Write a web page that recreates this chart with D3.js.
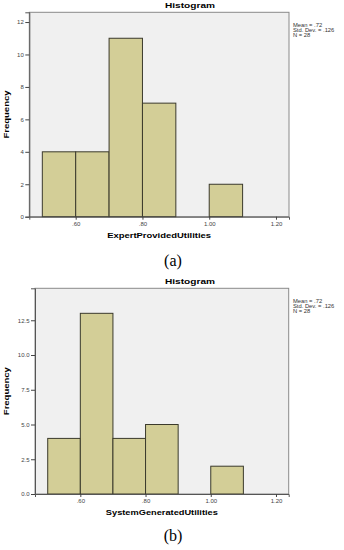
<!DOCTYPE html>
<html>
<head>
<meta charset="utf-8">
<script src="https://cdn.jsdelivr.net/npm/d3@7"></script>
<style>
  body { margin: 0; background: #fff; }
  svg { display: block; }
  text { font-family: "Liberation Sans", Arial, sans-serif; }
</style>
</head>
<body>
<svg id="chart" width="344" height="550"></svg>
<script>
// bin edges shared by both histograms
var binEdges = [0.5, 0.6, 0.7, 0.8, 0.9, 1.0, 1.1, 1.2];
var expertCounts = [4, 4, 11, 7, 0, 2, 0];
var systemCounts = [4, 13, 4, 5, 0, 2, 0];

var xTicks = [0.6, 0.8, 1.0, 1.2];
var expertYTicks = [0, 2, 4, 6, 8, 10, 12];
var systemYTicks = [0, 2.5, 5, 7.5, 10, 12.5];

var statsLines = ['Mean = .72', 'Std. Dev. = .126', 'N = 28'];
var xTitles = ['ExpertProvidedUtilities', 'SystemGeneratedUtilities'];
var captions = ['(a)', '(b)'];

var svg = d3.select('#chart');

var fmtX = function(d) {
  return d3.format('.2f')(d).replace(/^0/, '');
};

function histogram(opts) {
  var g = svg.append('g');
  var x = d3.scaleLinear().domain([0.461, 1.239]).range([opts.left, opts.right]);
  var y = d3.scaleLinear().domain([0, opts.yMax]).range([opts.bottom, opts.top]);

  var bins = opts.counts.map(function(c, i) {
    return {x0: binEdges[i], x1: binEdges[i + 1], n: c};
  }).filter(function(d) { return d.n > 0; });

  g.append('text')
    .attr('x', 190)
    .attr('y', opts.top - 4.5)
    .attr('text-anchor', 'middle')
    .attr('font-size', 8)
    .attr('font-weight', 'bold')
    .attr('textLength', 50)
    .attr('lengthAdjust', 'spacingAndGlyphs')
    .text('Histogram');

  g.append('rect')
    .attr('x', opts.left)
    .attr('y', opts.top)
    .attr('width', opts.right - opts.left)
    .attr('height', opts.bottom - opts.top)
    .attr('fill', '#f0f0f0')
    .attr('stroke', '#8a8a8a')
    .attr('stroke-width', 1);

  g.append('g')
    .selectAll('rect')
    .data(bins)
    .enter().append('rect')
      .attr('x', function(d) { return x(d.x0); })
      .attr('y', function(d) { return y(d.n); })
      .attr('width', function(d) { return x(d.x1) - x(d.x0); })
      .attr('height', function(d) { return y(0) - y(d.n); })
      .attr('fill', '#d3ce97')
      .attr('stroke', '#3b3a2c')
      .attr('stroke-width', 1);

  var yAxis = g.append('g')
      .attr('transform', 'translate(' + opts.left + ',0)')
      .call(d3.axisLeft(y).tickValues(opts.yTicks).tickFormat(opts.yFormat)
        .tickSize(4).tickPadding(1.5));
  var xAxis = g.append('g')
      .attr('transform', 'translate(0,' + opts.bottom + ')')
      .call(d3.axisBottom(x).tickValues(xTicks).tickFormat(fmtX)
        .tickSize(3).tickPadding(2));

  [yAxis, xAxis].forEach(function(a) {
    a.select('.domain').attr('stroke', '#555');
    a.selectAll('.tick line').attr('stroke', '#444');
    a.selectAll('.tick text')
      .attr('fill', '#444')
      .attr('font-size', 6)
      .style('font-family', '"Liberation Sans", Arial, sans-serif');
  });

  g.append('text')
    .attr('transform', 'translate(8.7,' + ((opts.top + opts.bottom) / 2) + ') rotate(-90)')
    .attr('text-anchor', 'middle')
    .attr('font-size', 7.5)
    .attr('font-weight', 'bold')
    .attr('textLength', 48)
    .attr('lengthAdjust', 'spacingAndGlyphs')
    .text('Frequency');

  g.append('text')
    .attr('x', (opts.left + opts.right) / 2)
    .attr('y', opts.bottom + opts.xTitleDy)
    .attr('text-anchor', 'middle')
    .attr('font-size', 7.5)
    .attr('font-weight', 'bold')
    .attr('textLength', opts.xTitleLen)
    .attr('lengthAdjust', 'spacingAndGlyphs')
    .text(opts.xTitle);

  g.append('g')
    .selectAll('text')
    .data(statsLines)
    .enter().append('text')
      .attr('x', 293)
      .attr('y', function(d, i) { return opts.top + 15 + i * 5; })
      .attr('font-size', 5.8)
      .attr('fill', '#333')
      .text(function(d) { return d; });

  g.append('text')
    .attr('x', 173)
    .attr('y', opts.captionY)
    .attr('text-anchor', 'middle')
    .attr('font-size', 16)
    .style('font-family', '"Liberation Serif", "DejaVu Serif", serif')
    .text(opts.caption);
}

histogram({
  left: 29.3, right: 289, top: 12.3, bottom: 216.7, yMax: 12.6,
  counts: expertCounts, yTicks: expertYTicks, yFormat: d3.format('d'),
  xTitle: xTitles[0], xTitleLen: 104, xTitleDy: 21, caption: captions[0], captionY: 266
});

histogram({
  left: 35, right: 288.7, top: 288.3, bottom: 494, yMax: 14.8,
  counts: systemCounts, yTicks: systemYTicks, yFormat: d3.format('.1f'),
  xTitle: xTitles[1], xTitleLen: 112, xTitleDy: 21, caption: captions[1], captionY: 541
});
</script>
</body>
</html>
